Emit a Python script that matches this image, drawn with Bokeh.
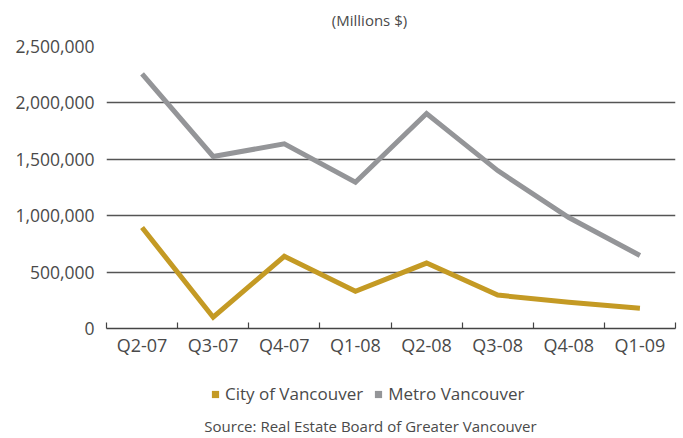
from bokeh.plotting import figure
from bokeh.layouts import column
from bokeh.models import (Range1d, FixedTicker, NumeralTickFormatter, Label,
                          Legend, LegendItem)
from bokeh.embed import file_html
from bokeh.resources import INLINE

quarters = ["Q2-07", "Q3-07", "Q4-07", "Q1-08", "Q2-08", "Q3-08", "Q4-08", "Q1-09"]
city = [895000, 100000, 640000, 330000, 580000, 296000, 233000, 180000]
metro = [2258000, 1525000, 1637000, 1297000, 1906000, 1400000, 984000, 647000]
y_ticks = [0, 500000, 1000000, 1500000, 2000000, 2500000]

FONT = "Open Sans"
TXT = "#4a4a4a"
GOLD = "#C49A24"
GRAY = "#949598"

xs = [i + 0.5 for i in range(len(quarters))]


def strip(height):
    s = figure(width=678, height=height, output_backend="svg", toolbar_location=None,
               x_range=Range1d(0, 569), y_range=Range1d(0, height),
               min_border_left=106, min_border_right=3,
               min_border_top=0, min_border_bottom=0)
    s.axis.visible = False
    s.grid.visible = False
    s.outline_line_color = None
    s.background_fill_color = "white"
    s.border_fill_color = "white"
    return s


# top strip: unit caption
p0 = strip(30)
p0.add_layout(Label(x=263, y=11, x_units="screen", y_units="screen",
                    text="(Millions $)", text_font=FONT, text_font_size="15px",
                    text_color=TXT, text_align="center", text_baseline="middle"))

p = figure(width=678, height=330, output_backend="svg", toolbar_location=None,
           x_range=Range1d(0, len(quarters)), y_range=Range1d(0, 2500000),
           min_border_left=106, min_border_right=3, min_border_top=16,
           min_border_bottom=32)
p.outline_line_color = None
p.background_fill_color = "white"
p.border_fill_color = "white"

# grid
p.xgrid.grid_line_color = None
p.ygrid.ticker = FixedTicker(ticks=y_ticks)
p.ygrid.grid_line_color = "#555555"
p.ygrid.grid_line_width = 1.3

# y axis
p.yaxis.ticker = FixedTicker(ticks=y_ticks)
p.yaxis.formatter = NumeralTickFormatter(format="0,0")
p.yaxis.axis_line_color = None
p.yaxis.major_tick_line_color = None
p.yaxis.minor_tick_line_color = None
p.yaxis.major_label_standoff = 6
p.yaxis.major_label_text_font = FONT
p.yaxis.major_label_text_font_size = "17.5px"
p.yaxis.major_label_text_color = TXT

# x axis
p.xaxis.ticker = FixedTicker(ticks=xs, minor_ticks=list(range(len(quarters) + 1)))
p.xaxis.major_label_overrides = {x: q for x, q in zip(xs, quarters)}
p.xaxis.axis_line_color = "#444444"
p.xaxis.axis_line_width = 1.3
p.xaxis.major_tick_line_color = None
p.xaxis.minor_tick_line_color = "#444444"
p.xaxis.minor_tick_line_width = 1.2
p.xaxis.minor_tick_in = 6
p.xaxis.minor_tick_out = 0
p.xaxis.major_label_standoff = -2
p.xaxis.major_label_text_font = FONT
p.xaxis.major_label_text_font_size = "18px"
p.xaxis.major_label_text_color = TXT

# lines
p.line(xs, metro, line_color=GRAY, line_width=5, line_join="miter")
p.line(xs, city, line_color=GOLD, line_width=5, line_join="miter")

# lower strip: legend and source
p2 = strip(76)
nan = float("nan")
r_city = p2.scatter(x=[nan], y=[nan], marker="square", size=7, fill_color=GOLD, line_color=None)
r_metro = p2.scatter(x=[nan], y=[nan], marker="square", size=7, fill_color=GRAY, line_color=None)
legend = Legend(items=[LegendItem(label="City of Vancouver", renderers=[r_city]),
                       LegendItem(label="Metro Vancouver", renderers=[r_metro])],
                orientation="horizontal", location=(100, 31),
                glyph_width=18, glyph_height=18, label_height=18,
                label_standoff=1, spacing=6,
                padding=0, margin=0, border_line_color=None,
                background_fill_alpha=0, label_text_font=FONT,
                label_text_font_size="17px", label_text_color=TXT)
p2.add_layout(legend, "center")

p2.add_layout(Label(x=264, y=11, x_units="screen", y_units="screen",
                    text="Source: Real Estate Board of Greater Vancouver",
                    text_font=FONT, text_font_size="15px",
                    text_color=TXT, text_align="center", text_baseline="middle"))

open("out.html", "w").write(file_html(column(p0, p, p2, spacing=0), INLINE))
